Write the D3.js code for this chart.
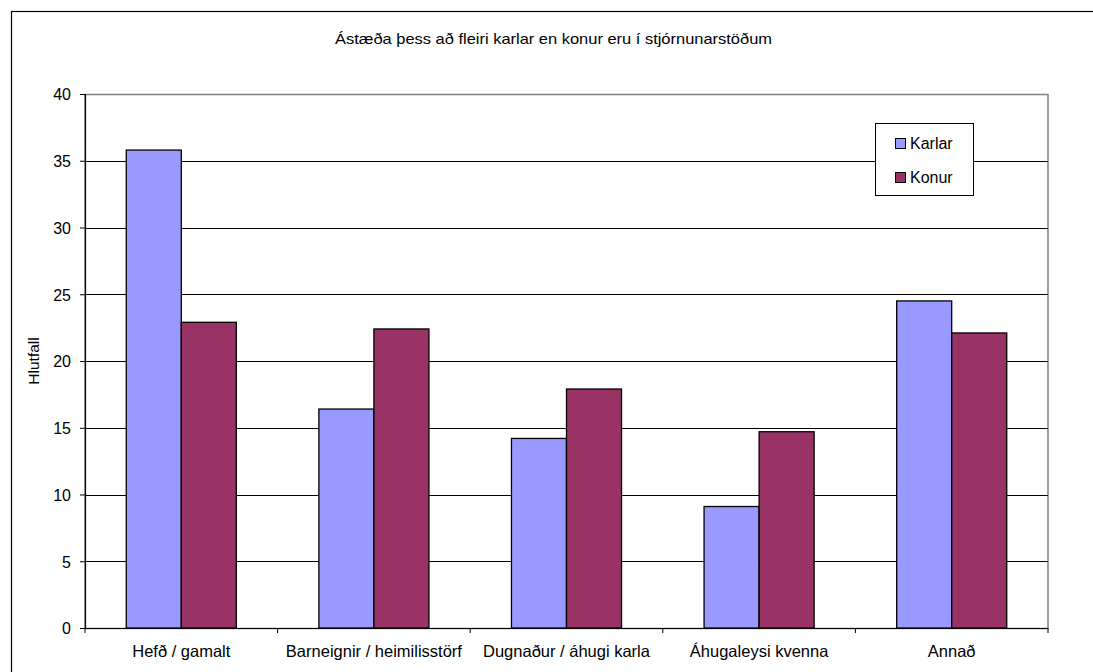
<!DOCTYPE html>
<html>
<head>
<meta charset="utf-8">
<script src="https://cdn.jsdelivr.net/npm/d3@7/dist/d3.min.js"></script>
<style>
  html, body { margin: 0; padding: 0; background: #fff; }
  svg { display: block; font-family: "Liberation Sans", Arial, sans-serif; }
</style>
</head>
<body>
<svg id="chart" width="1093" height="672"></svg>
<script>
// Survey responses (percent) by reason and gender
const categories = ["Hefð / gamalt", "Barneignir / heimilisstörf", "Dugnaður / áhugi karla", "Áhugaleysi kvenna", "Annað"];
const seriesNames = ["Karlar", "Konur"];
const karlar = [35.8, 16.4, 14.2, 9.1, 24.5];
const konur = [22.9, 22.4, 17.9, 14.7, 22.1];
const yTicks = [0, 5, 10, 15, 20, 25, 30, 35, 40];
const colors = ["#9999FF", "#993366"];
const titleText = "Ástæða þess að fleiri karlar en konur eru í stjórnunarstöðum";

const svg = d3.select("#chart");
const plot = { left: 85, top: 94, right: 1048, bottom: 628 };
const FONT = "Liberation Sans, Arial, sans-serif";

// Outer chart frame
svg.append("rect")
  .attr("x", 11.5).attr("y", 11.5)
  .attr("width", 1100).attr("height", 700)
  .attr("fill", "#fff").attr("stroke", "#000").attr("stroke-width", 1.2);

const x0 = d3.scaleBand().domain(categories).range([plot.left, plot.right]).paddingInner(0).paddingOuter(0);
const x1 = d3.scaleBand().domain(seriesNames).range([0, x0.bandwidth()]).paddingInner(0).paddingOuter(0.75);
const y = d3.scaleLinear().domain([0, 40]).range([plot.bottom, plot.top]);

// Plot area frame (gray)
svg.append("rect")
  .attr("x", plot.left).attr("y", plot.top + 0.5)
  .attr("width", plot.right - plot.left).attr("height", plot.bottom - plot.top)
  .attr("fill", "#fff").attr("stroke", "#808080").attr("stroke-width", 1.5);

// Gridlines
svg.append("g").selectAll("line")
  .data(yTicks.filter(t => t > 0 && t < 40))
  .join("line")
  .attr("x1", plot.left).attr("x2", plot.right)
  .attr("y1", d => Math.round(y(d)) + 0.5).attr("y2", d => Math.round(y(d)) + 0.5)
  .attr("stroke", "#000").attr("stroke-width", 1);

// Bars
const rows = categories.map((c, i) => ({ cat: c, values: [karlar[i], konur[i]] }));
svg.append("g").selectAll("g")
  .data(rows)
  .join("g")
  .attr("transform", d => `translate(${x0(d.cat)},0)`)
  .selectAll("rect")
  .data(d => d.values.map((v, j) => ({ name: seriesNames[j], v, j })))
  .join("rect")
  .attr("x", d => x1(d.name))
  .attr("y", d => y(d.v))
  .attr("width", x1.bandwidth())
  .attr("height", d => y(0) - y(d.v))
  .attr("fill", d => colors[d.j])
  .attr("stroke", "#000").attr("stroke-width", 1.3);

// Y axis
const yAxis = d3.axisLeft(y).tickValues(yTicks).tickSize(5).tickPadding(9);
const gy = svg.append("g").attr("transform", `translate(${plot.left},0)`).call(yAxis);
gy.attr("font-family", FONT).attr("font-size", 16);
gy.select(".domain").attr("stroke", "#000").attr("stroke-width", 1.2);
gy.selectAll(".tick line").attr("stroke", "#000");
gy.selectAll(".tick text").attr("fill", "#000").attr("dy", "0.36em");

// X axis: ticks at category boundaries
const gx = svg.append("g").attr("transform", `translate(0,${plot.bottom})`);
gx.append("line").attr("x1", plot.left).attr("x2", plot.right)
  .attr("y1", 0.5).attr("y2", 0.5).attr("stroke", "#000").attr("stroke-width", 1.2);
const boundaries = categories.map(c => x0(c)).concat([plot.right]);
gx.selectAll("line.tick").data(boundaries).join("line").attr("class", "tick")
  .attr("x1", d => d).attr("x2", d => d).attr("y1", 0).attr("y2", 5)
  .attr("stroke", "#000");
gx.selectAll("text").data(categories).join("text")
  .attr("x", d => x0(d) + x0.bandwidth() / 2)
  .attr("y", 29)
  .attr("text-anchor", "middle")
  .attr("font-size", 16.5).attr("fill", "#000")
  .text(d => d);

// Axis title
svg.append("text")
  .attr("transform", `translate(39,${(plot.top + plot.bottom) / 2}) rotate(-90)`)
  .attr("text-anchor", "middle").attr("font-size", 15.5).attr("fill", "#000")
  .text("Hlutfall");

// Chart title
svg.append("text")
  .attr("x", 553.5).attr("y", 44)
  .attr("text-anchor", "middle").attr("font-size", 15).attr("fill", "#000")
  .attr("textLength", 437).attr("lengthAdjust", "spacingAndGlyphs")
  .text(titleText);

// Legend
const lg = svg.append("g");
lg.append("rect").attr("x", 875.5).attr("y", 123.5).attr("width", 98).attr("height", 72)
  .attr("fill", "#fff").attr("stroke", "#000").attr("stroke-width", 1);
const items = lg.selectAll("g.item").data(seriesNames).join("g").attr("class", "item")
  .attr("transform", (d, i) => `translate(895,${138 + i * 34})`);
items.append("rect").attr("x", 0.5).attr("y", 0.5).attr("width", 10).attr("height", 10)
  .attr("fill", (d, i) => colors[i]).attr("stroke", "#000").attr("stroke-width", 1);
items.append("text").attr("x", 15).attr("y", 11).attr("font-size", 16).attr("fill", "#000")
  .text(d => d);
</script>
</body>
</html>
